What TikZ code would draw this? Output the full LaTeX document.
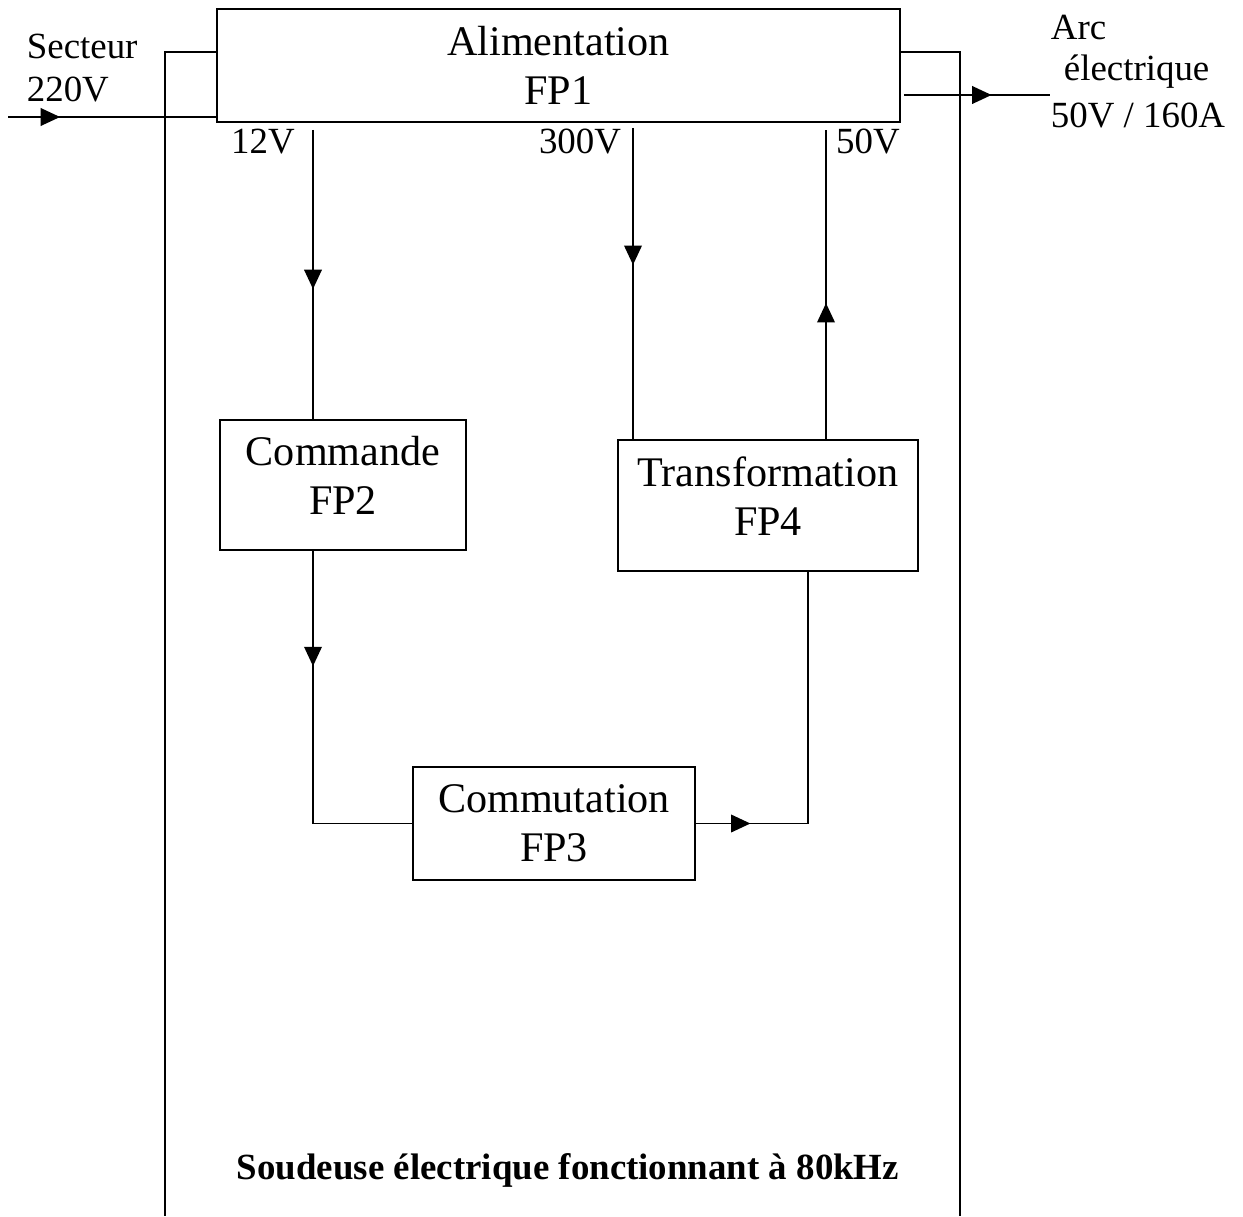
\documentclass[tikz,border=0pt]{standalone}
\usepackage{fontspec}
\setmainfont{Liberation Serif}
\usepackage{tikz}
\usetikzlibrary{arrows.meta,decorations.markings}

\begin{document}
\begin{tikzpicture}[x=0.02cm, y=-0.02cm, line width=1pt,
    bloc/.style={draw, align=center, font=\fontsize{24}{28}\selectfont},
    blochaut/.style={bloc, text depth=11pt},
    etiq/.style={font=\fontsize{21}{24}\selectfont, inner sep=0pt},
    fleche/.style={postaction={decorate}, decoration={markings,
      mark=at position #1 with {\arrow{Triangle[length=11pt, width=10pt]}}}}]

  \useasboundingbox (0,0) rectangle (1243,1216);

  % -- the four blocks -----------------------------------------------------
  \node[bloc, minimum width=13.66cm, minimum height=2.26cm] (alim) at (558.5,65.5) {Alimentation\\FP1};
  \node[blochaut, minimum width=4.92cm, minimum height=2.6cm] (cmd) at (343,485) {Commande\\FP2};
  \node[blochaut, minimum width=6cm, minimum height=2.62cm] (trf) at (768,505.5) {Transformation\\FP4};
  \node[bloc, minimum width=5.64cm, minimum height=2.26cm] (cmt) at (554,823.5) {Commutation\\FP3};

  % -- the outer frame, open at the bottom ----------------------------------
  \coordinate (ftop) at (0,52);
  \coordinate (fbl) at (165,1216);
  \coordinate (fbr) at (960,1216);
  \draw (alim.west |- ftop) -| (fbl);
  \draw (alim.east |- ftop) -| (fbr);

  % -- mains in, arc out ----------------------------------------------------
  \coordinate (entree) at (8,117);
  \coordinate (sortie) at (1050,95);
  \draw[fleche=0.25] (entree) -- (entree -| alim.west);
  \draw[fleche=0.6] ([xshift=0.06cm]sortie -| alim.east) -- (sortie);
  \node[etiq, anchor=west, align=left] (secteur) at (26,68) {Secteur\\[0.5pt]220V};
  \node[etiq, anchor=west] (arc) at (1050,28) {Arc};
  \node[etiq, anchor=west] (elec) at (1063,72) {électrique};
  \node[etiq, anchor=west] (puiss) at (1050,116) {50V / 160A};

  % -- the three supplies ---------------------------------------------------
  \coordinate (v12) at (313,130);
  \coordinate (v300) at (633,128);
  \coordinate (v50) at (826,130);
  \draw[fleche=0.55] (v12) -- (v12 |- cmd.north);
  \draw[fleche=0.44] (v300) -- (v300 |- trf.north);
  \draw[fleche=0.44] (v50 |- trf.north) -- (v50);
  \node[etiq] (l12) at (263,142) {12V};
  \node[etiq] (l300) at (580,142) {300V};
  \node[etiq] (l50) at (868,142) {50V};

  % -- command to switching to transformer ----------------------------------
  \draw[fleche=0.31] (cmd.south -| v12) |- (cmt.west);
  \draw[fleche=0.15] (cmt.east) -| ([xshift=0.8cm]trf.south);

  % -- title ----------------------------------------------------------------
  \node[font=\fontsize{21}{24}\selectfont\bfseries] (titre) at (568,1170) {Soudeuse électrique fonctionnant à 80kHz};

\end{tikzpicture}
\end{document}
